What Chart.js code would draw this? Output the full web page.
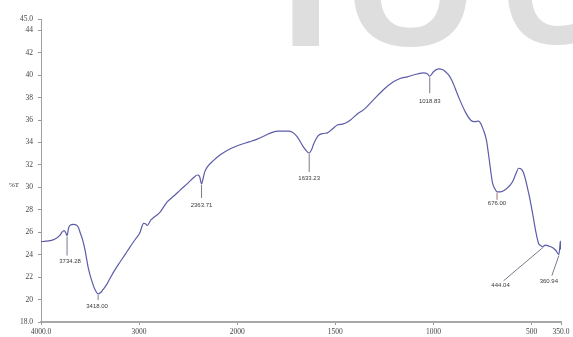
<!DOCTYPE html>
<html>
<head>
<meta charset="utf-8">
<script src="https://cdn.jsdelivr.net/npm/chart.js@4/dist/chart.umd.min.js"></script>
<style>
  html, body { margin: 0; padding: 0; background: #ffffff; }
  #wrap { width: 573px; height: 337px; }
</style>
</head>
<body>
<div id="wrap"><canvas id="ftir" width="573" height="337"></canvas></div>
<script>
// FTIR transmittance spectrum (%T against wavenumber, cm-1)
const wavenumbers = [4000, 3950, 3908, 3857, 3806, 3786, 3765, 3750, 3734.28, 3718, 3700, 3670, 3640, 3620,
  3602, 3575, 3551, 3520, 3480, 3445, 3418.00, 3395, 3367, 3330, 3296, 3250, 3194, 3140, 3092, 3040, 2990,
  2970, 2955, 2935, 2918, 2880, 2860, 2786, 2714, 2650, 2582, 2500, 2440, 2408, 2385, 2363.71, 2345, 2330,
  2306, 2240, 2173, 2080, 1985, 1940, 1898, 1860, 1821, 1790, 1765, 1740, 1719, 1694, 1663, 1645, 1633.23,
  1620, 1612, 1587, 1560, 1541, 1515, 1490, 1459, 1440, 1423, 1383, 1357, 1306, 1255, 1204, 1170, 1133,
  1082, 1051, 1030, 1018.83, 1008, 1000, 974, 955, 939, 920, 903, 872, 837, 811, 790, 770, 745, 730, 719,
  699, 685, 676.00, 660, 643, 620, 597, 580, 566, 555, 541, 515, 495, 480, 464, 452, 444.04, 430, 410, 390,
  375, 360.94, 356, 353, 351.5, 350];
const transmittance = [25.16, 25.2, 25.25, 25.4, 25.75, 26.0, 26.15, 26.0, 25.7, 26.4, 26.65, 26.7, 26.65, 26.45,
  26.0, 25.3, 24.4, 22.9, 21.6, 20.8, 20.5, 20.6, 20.9, 21.35, 21.9, 22.6, 23.35, 24.05, 24.7, 25.35, 26.0,
  26.55, 26.8, 26.75, 26.6, 27.1, 27.25, 27.8, 28.7, 29.2, 29.75, 30.4, 30.9, 31.1, 31.0, 30.3, 30.9, 31.4,
  31.8, 32.4, 32.9, 33.4, 33.8, 34.05, 34.3, 34.6, 34.9, 35.0, 35.0, 35.0, 34.9, 34.5, 33.6, 33.2, 33.06,
  33.4, 33.8, 34.6, 34.8, 34.85, 35.2, 35.55, 35.65, 35.8, 36.0, 36.6, 36.9, 37.8, 38.7, 39.4, 39.7, 39.85,
  40.1, 40.2, 40.1, 39.9, 40.1, 40.3, 40.55, 40.5, 40.3, 39.95, 39.4, 38.05, 36.7, 36.0, 35.85, 35.9, 35.1, 34.2, 32.9,
  30.4, 29.8, 29.6, 29.6, 29.7, 30.0, 30.5, 31.2, 31.7, 31.65, 31.3, 29.5, 27.7, 26.2, 25.0, 24.8, 24.7, 24.85, 24.75, 24.6,
  24.35, 24.0, 24.7, 25.2, 24.5, 24.8];

// Labelled absorption bands
const peakWavenumbers = [3734.28, 3418.00, 2363.71, 1633.23, 1018.83, 676.00, 444.04, 360.94];

// Axis ticks
const xTicks = [4000, 3000, 2000, 1500, 1000, 500, 350];
const yTicks = [18, 20, 22, 24, 26, 28, 30, 32, 34, 36, 38, 40, 42, 44, 45];
const yLabel = '%T';
const watermark = ['I', 'O', 'C'];

// Wavenumber axis: the region below 2000 cm-1 is drawn at twice the scale
const xHigh = xTicks[0], xBreak = 2000, xLow = xTicks[xTicks.length - 1];
function toUnit(w) { return w >= xBreak ? xHigh - w : (xHigh - xBreak) + 2 * (xBreak - w); }
const unitSpan = toUnit(xLow);

class WavenumberScale extends Chart.LinearScale {
  getPixelForValue(value) {
    return this.getPixelForDecimal(toUnit(value) / unitSpan);
  }
  getValueForPixel(pixel) {
    const u = this.getDecimalForPixel(pixel) * unitSpan;
    return u <= xHigh - xBreak ? xHigh - u : xBreak - (u - (xHigh - xBreak)) / 2;
  }
}
WavenumberScale.id = 'wavenumber';
WavenumberScale.defaults = Chart.LinearScale.defaults;
Chart.register(WavenumberScale);

const points = wavenumbers.map((w, i) => ({ x: w, y: transmittance[i] }));

// Leader line end and label centre, as pixel offsets from the band minimum
const leaderOffsets = [
  [0, 20, 3, 26], [0, 6, -1, 12], [0, 14, 0, 21], [0, 19, 0, 25],
  [0, 17, 0, 25], [0, 8, 0, 12], [-39, 34, -42, 39], [-7, 21, -10, 27]
];

const decorations = {
  id: 'decorations',
  beforeDraw(chart) {
    const ctx = chart.ctx;
    ctx.save();
    ctx.fillStyle = '#dedede';
    ctx.font = 'bold 150px "Open Sans"';
    ctx.textAlign = 'left';
    ctx.textBaseline = 'alphabetic';
    // ink left edge, ink right edge (null keeps natural width), baseline
    const glyphs = [[292, 320, 46], [353, 467, 46], [507, null, 44]];
    watermark.forEach((ch, i) => {
      const [left, right, base] = glyphs[i];
      const m = ctx.measureText(ch);
      const inkL = -m.actualBoundingBoxLeft, inkR = m.actualBoundingBoxRight;
      const sx = right === null ? 1 : (right - left) / (inkR - inkL);
      ctx.save();
      ctx.translate(left - inkL * sx, base);
      ctx.scale(sx, 1);
      ctx.fillText(ch, 0, 0);
      ctx.restore();
    });
    ctx.restore();
  },
  afterDatasetsDraw(chart) {
    const ctx = chart.ctx;
    const xs = chart.scales.x, ys = chart.scales.y;
    ctx.save();
    ctx.font = '6px "Liberation Sans"';
    ctx.textAlign = 'center';
    ctx.textBaseline = 'middle';
    peakWavenumbers.forEach((w, i) => {
      const v = transmittance[wavenumbers.indexOf(w)];
      const px = xs.getPixelForValue(w), py = ys.getPixelForValue(v);
      const o = leaderOffsets[i];
      ctx.strokeStyle = w === 676.00 ? '#a07070' : '#7a7a8a';
      ctx.lineWidth = 1;
      ctx.beginPath();
      ctx.moveTo(px, py + 1);
      ctx.lineTo(px + o[0], py + o[1]);
      ctx.stroke();
      ctx.fillStyle = '#3a3a3a';
      ctx.fillText(w.toFixed(2), px + o[2], py + o[3]);
    });
    ctx.font = '7px "Liberation Serif"';
    ctx.fillStyle = '#333';
    ctx.fillText(yLabel, 14, 185);
    ctx.restore();
  }
};

new Chart(document.getElementById('ftir'), {
  type: 'line',
  data: {
    datasets: [{
      data: points,
      borderColor: '#5c5ca8',
      borderWidth: 1.2,
      pointRadius: 0,
      cubicInterpolationMode: 'monotone',
      fill: false
    }]
  },
  options: {
    responsive: false,
    animation: false,
    devicePixelRatio: 1,
    layout: { padding: { top: 19, right: 12, left: 0, bottom: 0 } },
    plugins: { legend: { display: false }, tooltip: { enabled: false } },
    scales: {
      x: {
        type: 'wavenumber',
        min: xLow, max: xHigh,
        afterBuildTicks: s => { s.ticks = xTicks.map(v => ({ value: v })); },
        afterFit: s => { s.height = 15; },
        ticks: {
          autoSkip: false, maxRotation: 0, padding: 3,
          color: '#444',
          font: { family: '"Liberation Serif"', size: 7.5 },
          callback: v => (v === xHigh || v === xLow) ? v.toFixed(1) : String(v)
        },
        grid: { drawOnChartArea: false, tickLength: 3, color: '#999' },
        border: { color: '#a8a8a8', width: 2 }
      },
      y: {
        min: yTicks[0], max: yTicks[yTicks.length - 1],
        afterBuildTicks: s => { s.ticks = yTicks.map(v => ({ value: v })); },
        afterFit: s => { s.width = 41; },
        ticks: {
          autoSkip: false, padding: 5,
          color: '#444',
          font: { family: '"Liberation Serif"', size: 7.5 },
          callback: v => (v === yTicks[0] || v === yTicks[yTicks.length - 1]) ? v.toFixed(1) : String(v)
        },
        grid: { drawOnChartArea: false, tickLength: 3, color: '#999' },
        border: { color: '#a0a0a0', width: 1 }
      }
    }
  },
  plugins: [decorations]
});
</script>
</body>
</html>
